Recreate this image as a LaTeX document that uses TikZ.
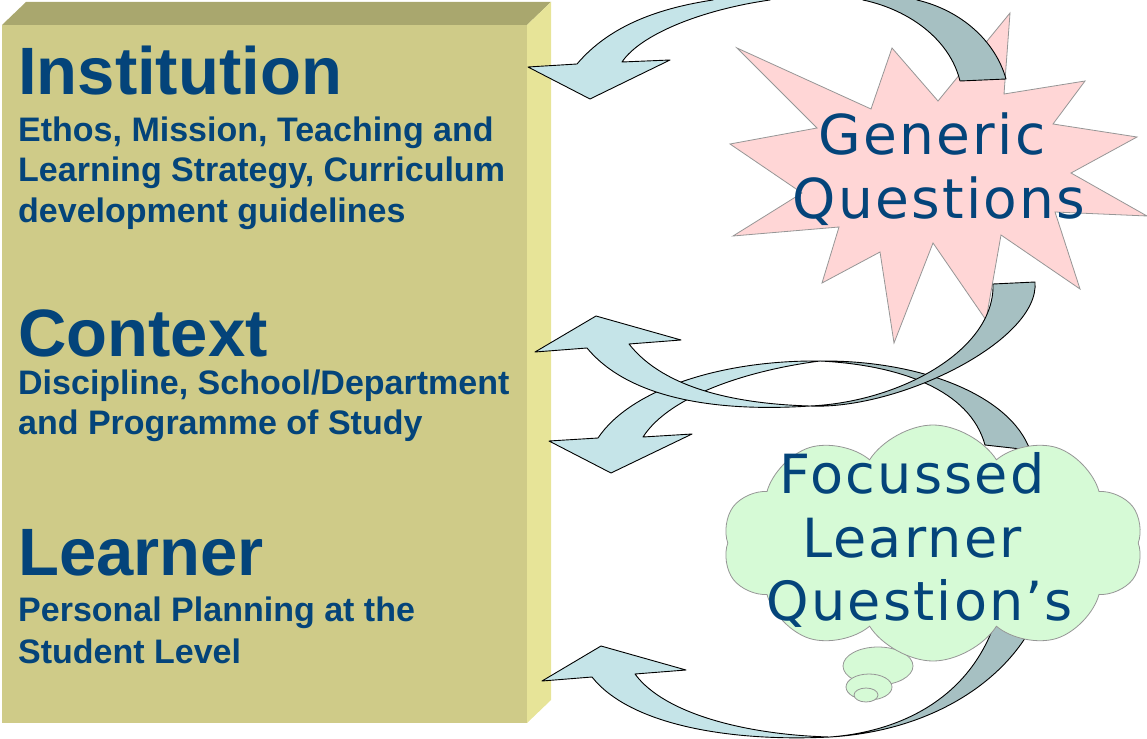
\documentclass[tikz,border=0pt]{standalone}
\usepackage{fontspec}
\setmainfont{Liberation Sans}
\newfontfamily\qfont[LetterSpace=4]{DejaVu Sans}
\usetikzlibrary{shapes.symbols}

\definecolor{boxfront}{RGB}{207,203,136}
\definecolor{boxtop}{RGB}{169,167,110}
\definecolor{boxside}{RGB}{231,228,152}
\definecolor{inkblue}{RGB}{4,68,122}
\definecolor{ribbonblue}{RGB}{197,228,232}
\definecolor{ribbongrey}{RGB}{166,192,194}
\definecolor{starpink}{RGB}{255,214,214}
\definecolor{cloudgreen}{RGB}{214,250,214}
\definecolor{shapeline}{RGB}{150,150,150}

\begin{document}
\begin{tikzpicture}[x=1pt, y=-1pt]
		\tikzset{
		    headline/.style= {anchor=base west, inner sep=0pt, text=inkblue, font=\bfseries\fontsize{67}{80}\selectfont},
		    subline/.style= {anchor=base west, inner sep=0pt, text=inkblue, font=\bfseries\fontsize{34}{40}\selectfont},
		    qline/.style= {anchor=base, inner sep=0pt, text=inkblue, font=\qfont\fontsize{55}{63}\selectfont},
		    ribbonfront/.style= {fill=ribbonblue, draw=black, line width=0.9pt, line join=round},
		    ribbonback/.style= {fill=ribbongrey, draw=black, line width=0.9pt, line join=round},
		    burst/.style= {fill=starpink, draw=shapeline, line width=0.8pt},
		    bubble/.style= {fill=cloudgreen, draw=shapeline, line width=0.8pt},
		    thought/.style= {cloud, cloud puffs=10, cloud puff arc=115, aspect=1.75, fill=cloudgreen, draw=shapeline, line width=0.8pt, minimum width=420pt, minimum height=236pt, inner sep=0pt},
		}
		\useasboundingbox (0,0) rectangle (1147,738);
		\clip (0,0) rectangle (1147,738);
		
		% block
		\fill[boxfront] (2,25) rectangle (527,723);
		\fill[boxtop] (2,25) -- (26,2) -- (551,2) -- (527,25) -- cycle;
		\fill[boxside] (527,25) -- (551,2) -- (551,700) -- (527,723) -- cycle;
		
		% starburst
		\draw[burst] (737,48) -- (871,109) -- (892,48) -- (938,101) -- (1010,13) -- (1004,94)
		  -- (1085,81) -- (1053,124) -- (1137,137) -- (1071,173) -- (1147,216) -- (1055,212)
		  -- (1080,289) -- (1001,235) -- (986,320) -- (933,243) -- (894,343) -- (880,252)
		  -- (822,283) -- (839,227) -- (733,236) -- (802,193) -- (730,144) -- (817,128) -- cycle;
		
		% top ribbon
		\def\topribbon{(528,67) -- (590,99) -- (670,60) -- (622,62)
		  .. controls (640,35) and (700,10) .. (770,0) .. controls (800,-30) and (840,-30) .. (863,0)
		  .. controls (910,10) and (950,40) .. (960,81) -- (1006,79)
		  .. controls (995,40) and (960,10) .. (917,0) .. controls (860,-60) and (780,-60) .. (713,0)
		  .. controls (660,8) and (610,25) .. (577,64) -- cycle}
		\fill[ribbonblue] \topribbon;
		\begin{scope}
		  \clip (815,-100) rectangle (1147,200);
		  \fill[ribbongrey] \topribbon;
		\end{scope}
		\draw[line width=0.9pt, line join=round] \topribbon;
		
		% middle ribbon, lower head
		\draw[ribbonback] (820,361) .. controls (920,360) and (1010,395) .. (1030,450)
		  -- (985,445) .. controls (970,390) and (900,365) .. (820,361) -- cycle;
		\draw[ribbonfront] (549,441) -- (611,473) -- (692,434) -- (643,437)
		  .. controls (670,395) and (750,370) .. (820,361)
		  .. controls (720,360) and (630,390) .. (598,438) -- cycle;
		
		% middle ribbon, upper head
		\draw[ribbonback] (810,406) .. controls (900,410) and (1040,340) .. (1035,282)
		  -- (993,284) .. controls (995,350) and (900,402) .. (810,406) -- cycle;
		\draw[ribbonfront] (535,352) -- (596,316) -- (681,340) -- (629,344)
		  .. controls (665,390) and (740,404) .. (810,406)
		  .. controls (720,412) and (630,400) .. (587,348) -- cycle;
		
		% bottom ribbon
		\draw[ribbonback] (830,737) .. controls (950,730) and (1040,660) .. (1050,570)
		  -- (1005,575) .. controls (995,680) and (920,730) .. (830,737) -- cycle;
		\draw[ribbonfront] (542,681) -- (601,646) -- (686,670) -- (635,674)
		  .. controls (665,715) and (750,735) .. (830,737)
		  .. controls (730,742) and (630,725) .. (592,677) -- cycle;
		
		% thought cloud
		\draw[bubble] (878,666) ellipse [x radius=35, y radius=19];
		\draw[bubble] (869,687) ellipse [x radius=23, y radius=13];
		\draw[bubble] (866,695) ellipse [x radius=12, y radius=7];
		\node[thought] (fcloud) at (933,543) {};
		
		% left column
		\node[headline] (inst) at (18,95) {Institution};
		\node[subline] (inst1) at (18,142) {Ethos, Mission, Teaching and};
		\node[subline] (inst2) at (18,182) {Learning Strategy, Curriculum};
		\node[subline] (inst3) at (18,222) {development guidelines};
		
		\node[headline] (ctx) at (18,356) {Context};
		\node[subline] (ctx1) at (18,394) {Discipline, School/Department};
		\node[subline] (ctx2) at (18,434) {and Programme of Study};
		
		\node[headline] (lrn) at (18,575) {Learner};
		\node[subline] (lrn1) at (18,621) {Personal Planning at the};
		\node[subline] (lrn2) at (18,663) {Student Level};
		
		% right column
		\node[qline] (gen1) at (932,155) {Generic};
		\node[qline] (gen2) at (939,218) {Questions};
		
		\node[qline, font=\qfont\fontsize{54}{63}\selectfont] (foc1) at (912,493) {Focussed};
		\node[qline, font=\qfont\fontsize{54}{63}\selectfont] (foc2) at (912,557) {Learner};
		\node[qline, font=\qfont\fontsize{54}{63}\selectfont] (foc3) at (920,620) {Question’s};
	\end{tikzpicture}
\end{document}
